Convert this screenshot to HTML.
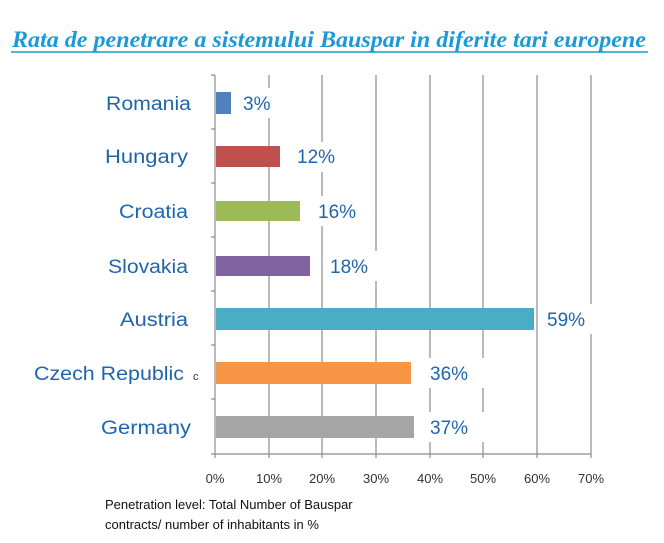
<!DOCTYPE html>
<html><head><style>
body{margin:0;background:#fff;width:664px;height:538px;overflow:hidden}
</style></head><body>
<svg width="664" height="538" xmlns="http://www.w3.org/2000/svg" font-family="Liberation Sans, sans-serif">
<text x="12" y="47" textLength="634" lengthAdjust="spacingAndGlyphs" font-family="Liberation Serif, serif" font-style="italic" font-weight="bold" font-size="23" fill="#1a9ad6">Rata de penetrare a sistemului Bauspar in diferite tari europene</text>
<line x1="11" y1="52" x2="648" y2="52" stroke="#1a9ad6" stroke-width="1.5"/>
<g stroke="#8c8c8c" stroke-width="1.2">
<line x1="269" y1="75" x2="269" y2="458"/>
<line x1="322" y1="75" x2="322" y2="458"/>
<line x1="376" y1="75" x2="376" y2="458"/>
<line x1="430" y1="75" x2="430" y2="458"/>
<line x1="483" y1="75" x2="483" y2="458"/>
<line x1="537" y1="75" x2="537" y2="458"/>
<line x1="591" y1="75" x2="591" y2="458"/>
<line x1="215" y1="75" x2="215" y2="458"/>
<line x1="211" y1="454" x2="591" y2="454"/>
<line x1="211" y1="75" x2="215" y2="75"/>
<line x1="211" y1="129" x2="215" y2="129"/>
<line x1="211" y1="183" x2="215" y2="183"/>
<line x1="211" y1="237" x2="215" y2="237"/>
<line x1="211" y1="291" x2="215" y2="291"/>
<line x1="211" y1="345" x2="215" y2="345"/>
<line x1="211" y1="399" x2="215" y2="399"/>
</g>
<rect x="216" y="92" width="15" height="22" fill="#4f81bd"/>
<rect x="216" y="146" width="64" height="21" fill="#c0504d"/>
<rect x="216" y="201" width="84" height="20" fill="#9bbb59"/>
<rect x="216" y="256" width="94" height="20" fill="#8064a2"/>
<rect x="216" y="308" width="318" height="22" fill="#4bacc6"/>
<rect x="216" y="362" width="195" height="22" fill="#f79646"/>
<rect x="216" y="416" width="198" height="22" fill="#a5a5a5"/>
<g fill="#fff">
<rect x="238" y="88" width="42" height="30"/>
<rect x="292" y="142" width="52" height="30"/>
<rect x="313" y="196" width="52" height="30"/>
<rect x="325" y="251" width="52" height="30"/>
<rect x="540" y="304" width="60" height="30"/>
<rect x="420" y="358" width="64" height="30"/>
<rect x="420" y="412" width="64" height="30"/>
</g>
<g fill="#1f65ad" font-size="19">
<text x="243" y="110">3%</text>
<text x="297" y="163">12%</text>
<text x="318" y="218">16%</text>
<text x="330" y="273">18%</text>
<text x="547" y="326">59%</text>
<text x="430" y="380">36%</text>
<text x="430" y="434">37%</text>
</g>
<g fill="#1f65ad" font-size="19">
<text x="106" y="110" textLength="85" lengthAdjust="spacingAndGlyphs">Romania</text>
<text x="105" y="163" textLength="83" lengthAdjust="spacingAndGlyphs">Hungary</text>
<text x="119" y="218" textLength="69" lengthAdjust="spacingAndGlyphs">Croatia</text>
<text x="108" y="273" textLength="80" lengthAdjust="spacingAndGlyphs">Slovakia</text>
<text x="120" y="326" textLength="68" lengthAdjust="spacingAndGlyphs">Austria</text>
<text x="34" y="380" textLength="150" lengthAdjust="spacingAndGlyphs">Czech Republic</text>
<text x="101" y="434" textLength="90" lengthAdjust="spacingAndGlyphs">Germany</text>
</g>
<text x="193" y="380" font-size="11" fill="#333">c</text>
<g fill="#333" font-size="13" text-anchor="middle">
<text x="215" y="483">0%</text>
<text x="269" y="483">10%</text>
<text x="322" y="483">20%</text>
<text x="376" y="483">30%</text>
<text x="430" y="483">40%</text>
<text x="483" y="483">50%</text>
<text x="537" y="483">60%</text>
<text x="591" y="483">70%</text>
</g>
<g fill="#111" font-size="13">
<text x="105" y="509">Penetration level: Total Number of Bauspar</text>
<text x="105" y="529">contracts/ number of inhabitants in %</text>
</g>
</svg>
</body></html>
